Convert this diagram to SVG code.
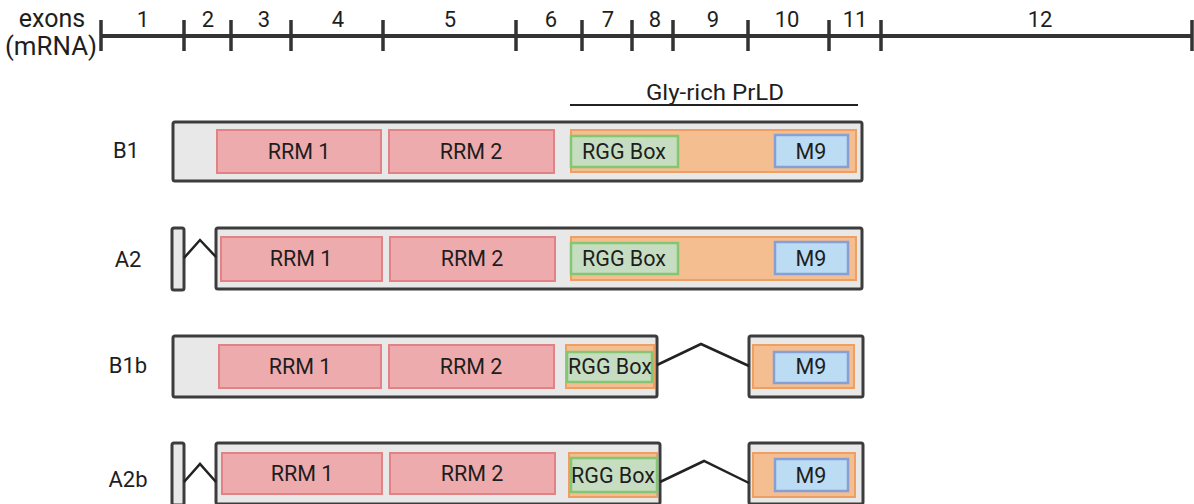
<svg xmlns="http://www.w3.org/2000/svg" width="1194" height="504" viewBox="0 0 1194 504">
<style>
text{font-family:Roboto,"Liberation Sans",sans-serif;fill:#1e1e1e}
.ax{stroke:#333;stroke-width:4;fill:none}
.tk{stroke:#333;stroke-width:3.5;fill:none}
.num{font-size:22px;text-anchor:middle}
.lbl{font-size:22px;text-anchor:middle}
.box{fill:#e8e8e8;stroke:#3c3c3c;stroke-width:3}
.rrm{fill:#eeabad;stroke:#e28284;stroke-width:2}
.prld{fill:#f5be91;stroke:#f09f63;stroke-width:2}
.rgg{fill:#c7ddc1;stroke:#84c672;stroke-width:2.5}
.m9{fill:#bcdcf3;stroke:#86a0d6;stroke-width:2.5}
.dt{font-size:21.5px;text-anchor:middle}
.spl{stroke:#222;stroke-width:2.5;fill:none}
</style>
<g id="axis">
<text x="52" y="27" style="font-size:25px" text-anchor="middle">exons</text>
<text x="51" y="55" style="font-size:25px" text-anchor="middle" textLength="92" lengthAdjust="spacingAndGlyphs">(mRNA)</text>
<line class="ax" x1="100" y1="36" x2="1193" y2="36"/>
<path class="tk" d="M101,20V51M184,20V51M231,20V51M291,20V51M383,20V51M516,20V51M582,20V51M632,20V51M673,20V51M748,20V51M829,20V51M881,20V51M1192,20V51"/>
<text class="num" x="143" y="27">1</text>
<text class="num" x="208" y="27">2</text>
<text class="num" x="264" y="27">3</text>
<text class="num" x="338" y="27">4</text>
<text class="num" x="450" y="27">5</text>
<text class="num" x="551" y="27">6</text>
<text class="num" x="608" y="27">7</text>
<text class="num" x="655" y="27">8</text>
<text class="num" x="713" y="27">9</text>
<text class="num" x="787" y="27">10</text>
<text class="num" x="855" y="27">11</text>
<text class="num" x="1040" y="27">12</text>
</g>
<g id="prld-label">
<text x="715" y="100" style="font-size:22px" text-anchor="middle" textLength="138" lengthAdjust="spacingAndGlyphs">Gly-rich PrLD</text>
<line x1="570" y1="105" x2="858" y2="105" stroke="#222" stroke-width="2"/>
</g>
<g id="B1">
<text class="lbl" x="126" y="158">B1</text>
<rect class="box" x="173" y="122" width="689" height="59" rx="2"/>
<rect class="rrm" x="217" y="130" width="164" height="43"/>
<text class="dt" x="299" y="159">RRM 1</text>
<rect class="rrm" x="389" y="130" width="165" height="43"/>
<text class="dt" x="471" y="159">RRM 2</text>
<rect class="prld" x="571" y="130" width="285" height="42"/>
<rect class="rgg" x="571" y="136" width="107" height="31"/>
<text class="dt" x="624" y="159">RGG Box</text>
<rect class="m9" x="775" y="135" width="73" height="32"/>
<text class="dt" x="811" y="159">M9</text>
</g>
<g id="A2">
<text class="lbl" x="128" y="267">A2</text>
<rect class="box" x="172" y="228" width="12" height="62" rx="2"/>
<rect class="box" x="216" y="228" width="646" height="61" rx="2"/>
<rect class="rrm" x="221" y="237" width="161" height="44"/>
<text class="dt" x="301" y="266">RRM 1</text>
<rect class="rrm" x="390" y="237" width="165" height="44"/>
<text class="dt" x="472" y="266">RRM 2</text>
<rect class="prld" x="571" y="237" width="285" height="43"/>
<rect class="rgg" x="571" y="243" width="107" height="31"/>
<text class="dt" x="624" y="266">RGG Box</text>
<rect class="m9" x="775" y="242" width="73" height="32"/>
<text class="dt" x="811" y="266">M9</text>
</g>
<g id="B1b">
<text class="lbl" x="128" y="373">B1b</text>
<rect class="box" x="173" y="336" width="484" height="61" rx="2"/>
<rect class="rrm" x="219" y="345" width="162" height="43"/>
<text class="dt" x="300" y="374">RRM 1</text>
<rect class="rrm" x="389" y="345" width="165" height="43"/>
<text class="dt" x="471" y="374">RRM 2</text>
<rect class="prld" x="566" y="345" width="88" height="43"/>
<rect class="rgg" x="567" y="352" width="85" height="30"/>
<text class="dt" x="610" y="374">RGG Box</text>
<rect class="box" x="749" y="336" width="114" height="61" rx="2"/>
<rect class="prld" x="753" y="345" width="101" height="43"/>
<rect class="m9" x="774" y="352" width="74" height="31"/>
<text class="dt" x="811" y="374">M9</text>
</g>
<g id="A2b">
<text class="lbl" x="128" y="487">A2b</text>
<rect class="box" x="172" y="443" width="12" height="62" rx="2"/>
<rect class="box" x="216" y="443" width="444" height="61" rx="2"/>
<rect class="rrm" x="222" y="453" width="160" height="41"/>
<text class="dt" x="302" y="481">RRM 1</text>
<rect class="rrm" x="390" y="453" width="165" height="41"/>
<text class="dt" x="472" y="481">RRM 2</text>
<rect class="prld" x="569" y="453" width="88" height="44"/>
<rect class="rgg" x="571" y="458" width="86" height="34"/>
<text class="dt" x="613" y="483">RGG Box</text>
<rect class="box" x="749" y="443" width="114" height="61" rx="2"/>
<rect class="prld" x="753" y="453" width="102" height="44"/>
<rect class="m9" x="775" y="459" width="73" height="32"/>
<text class="dt" x="811" y="483">M9</text>
</g>
<g id="connectors">
<polyline class="spl" points="184,258 200,240 216,257"/>
<polyline class="spl" points="657,365 701,344 749,366"/>
<polyline class="spl" points="184,482 200,464 216,482"/>
<polyline class="spl" points="660,482 704,461 749,483"/>
</g>
</svg>
